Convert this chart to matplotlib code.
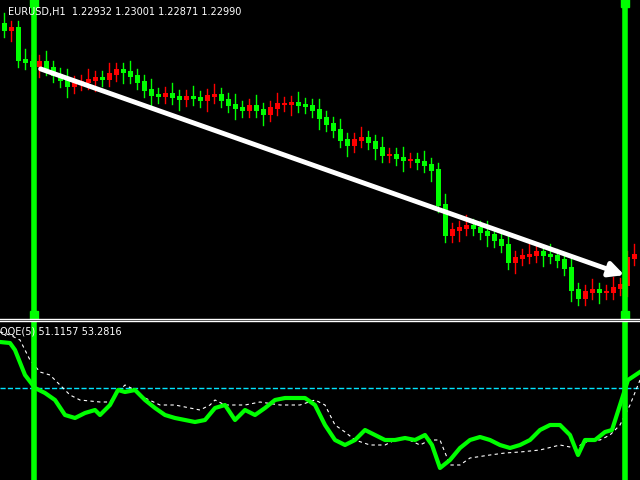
import numpy as np
import matplotlib.pyplot as plt

# closes of the H1 candles (price), left to right
close_px = [30, 28, 60, 62, 66, 62, 68, 75, 80, 86, 83, 82, 80, 78, 79, 74, 70, 72, 76, 82,
            90, 95, 96, 94, 97, 99, 97, 98, 100, 96, 95, 100, 105, 108, 110, 106, 110, 114, 108, 104,
            104, 103, 105, 106, 110, 118, 124, 130, 140, 145, 140, 138, 142, 148, 155, 155, 158, 160, 160, 162,
            165, 170, 205, 235, 230, 228, 226, 228, 232, 235, 240, 245, 262, 258, 256, 255, 252, 255, 256, 260,
            268, 290, 298, 292, 290, 292, 292, 288, 285, 258, 255]
closes = [1.2380 - y * 0.00005 for y in close_px]
opens = [closes[0] + 0.0003] + closes[:-1]

# QQE(5) main line and signal line (x position, value)
qqe_x = [0, 10, 15, 25, 35, 45, 55, 65, 75, 85, 95, 100, 110, 118, 125, 135, 145, 155, 165, 175,
         185, 195, 205, 215, 225, 235, 245, 255, 265, 275, 285, 295, 305, 315, 325, 335, 345, 355, 365, 375,
         385, 395, 405, 415, 425, 432, 440, 450, 460, 470, 480, 490, 500, 510, 520, 530, 540, 550, 560, 570,
         578, 585, 595, 605, 612, 620, 628, 640]
qqe_px = [342, 343, 350, 375, 388, 393, 400, 415, 418, 413, 410, 415, 405, 390, 392, 390, 400, 408, 415, 418,
          420, 422, 420, 408, 405, 420, 410, 415, 408, 400, 398, 398, 398, 405, 425, 440, 445, 440, 430, 435,
          440, 440, 438, 440, 435, 445, 468, 460, 448, 440, 437, 440, 445, 448, 445, 440, 430, 425, 425, 435,
          455, 440, 440, 432, 430, 405, 380, 372]
sig_x = [0, 10, 20, 30, 40, 50, 60, 70, 80, 100, 110, 115, 125, 135, 145, 160, 175, 190, 200, 210,
         215, 225, 235, 245, 260, 280, 300, 315, 325, 335, 345, 355, 370, 385, 395, 405, 420, 430, 440, 450,
         460, 470, 490, 505, 520, 540, 560, 575, 590, 600, 610, 620, 630, 640]
sig_px = [332, 335, 340, 360, 372, 375, 385, 395, 400, 402, 402, 395, 385, 390, 398, 405, 405, 408, 410, 405,
          400, 405, 405, 405, 402, 405, 405, 400, 405, 425, 432, 440, 445, 445, 440, 438, 445, 440, 440, 465,
          465, 458, 455, 453, 452, 450, 445, 448, 440, 440, 435, 425, 405, 380]
qqe = [50 + (388 - y) * 0.35 for y in qqe_px]
sig = [50 + (388 - y) * 0.35 for y in sig_px]

GREEN = '#00ff00'
RED = '#ff0000'

fig = plt.figure(figsize=(6.4, 4.8), dpi=100, facecolor='black')
ax = fig.add_axes([0, 162 / 480, 1, 318 / 480], facecolor='black')
ax2 = fig.add_axes([0, 0, 1, 158 / 480], facecolor='black')
for a in (ax, ax2):
    a.set_xlim(0, 640)
    a.axis('off')
ax.set_ylim(1.2380 - 318 * 0.00005, 1.2380)
ax2.set_ylim(50 - 92 * 0.35, 50 + 66 * 0.35)

# candles
for i, (o, c) in enumerate(zip(opens, closes)):
    x = 4 + 7 * i
    col = GREEN if c < o else RED
    hi = max(o, c) + 0.00035 + 0.0002 * (i % 3 == 0)
    lo = min(o, c) - 0.00035 - 0.0002 * (i % 4 == 1)
    ax.plot([x, x], [lo, hi], color=col, lw=1)
    ax.bar(x, abs(c - o) + 0.0001, bottom=min(o, c) - 0.00005, width=5, color=col)

# trend arrow
ax.annotate('', xy=(627, 1.2380 - 276 * 0.00005), xytext=(38, 1.2380 - 68 * 0.00005),
            arrowprops=dict(arrowstyle='-|>', color='white', lw=3.5, mutation_scale=22))

# QQE panel
ax2.axhline(50, color='#00e5ff', ls='--', lw=1)
ax2.plot(sig_x, sig, color='white', ls=(0, (3, 3)), lw=0.8)
ax2.plot(qqe_x, qqe, color=GREEN, lw=3)

# vertical lines
for x in (34, 625):
    ax.axvline(x, color=GREEN, lw=4)
    ax2.axvline(x, color=GREEN, lw=4)
    ax.plot([x], [1.2380 - 315 * 0.00005], 's', color=GREEN, ms=6)
    ax.plot([x], [1.2380 - 3 * 0.00005], 's', color=GREEN, ms=6)

# separator
fig.add_artist(plt.Line2D([0, 1], [161 / 480, 161 / 480], color='white', lw=1))
fig.add_artist(plt.Line2D([0, 1], [159 / 480, 159 / 480], color='white', lw=1))

fig.text(0.012, 0.986, 'EURUSD,H1  1.22932 1.23001 1.22871 1.22990', color='white',
         fontsize=7, va='top')
fig.text(0.0, 0.32, 'QQE(5) 51.1157 53.2816', color='white', fontsize=7, va='top')

fig.savefig('out.png', dpi=100, facecolor='black')
